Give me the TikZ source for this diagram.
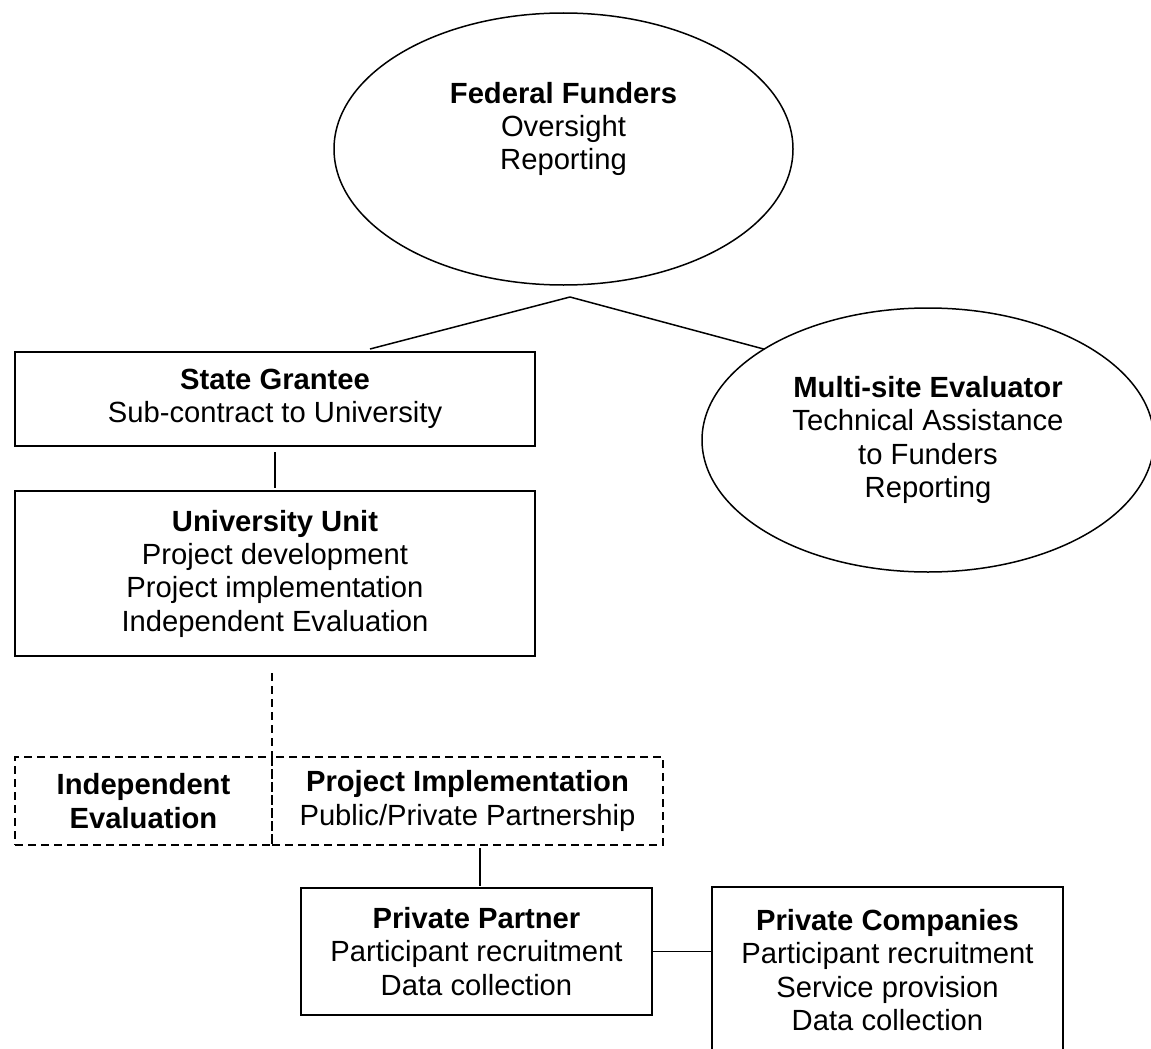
\documentclass[tikz,border=0pt]{standalone}
\usepackage{fontspec}
\setmainfont{Liberation Sans}
\usetikzlibrary{shapes.geometric}
\newcommand{\dfont}{\fontsize{29.2}{33.3}\selectfont}
\begin{document}
\begin{tikzpicture}[x=1pt,y=-1pt,
  every node/.style={font=\dfont, align=center, inner sep=0pt, outer sep=0pt},
  conn/.style={line width=1.5pt},
  dconn/.style={line width=1.5pt, dash pattern=on 8pt off 5pt},
  box/.style={draw, line width=1.5pt, rectangle},
  dbox/.style={box, dash pattern=on 8pt off 5pt},
  oval/.style={draw, line width=1.5pt, ellipse}]
\useasboundingbox (0,0) rectangle (1151,1049);
\clip (0,0) rectangle (1151,1049);
% ellipses
\node[oval, minimum width=459pt, minimum height=272pt] (ff) at (563.5,149) {};
\node (fft) at (563.5,129) {\textbf{Federal Funders}\\Oversight\\Reporting};
\node[oval, minimum width=452pt, minimum height=264pt] (ms) at (928,440)
  {\textbf{Multi-site Evaluator}\\Technical Assistance\\to Funders\\Reporting};
% boxes
\node[box, minimum width=520pt, minimum height=94pt] (sg) at (275,399)
  {\textbf{State Grantee}\\Sub-contract to University};
\node[box, minimum width=520pt, minimum height=165pt] (uu) at (275,573.5)
  {\textbf{University Unit}\\Project development\\Project implementation\\Independent Evaluation};
\node[dbox, minimum width=257pt, minimum height=88pt] (ie) at (143.5,801)
  {\textbf{Independent}\\\textbf{Evaluation}};
\node[dbox, minimum width=391pt, minimum height=88pt] (pi) at (467.5,801)
  {\textbf{Project Implementation}\\Public/Private Partnership};
\node[box, minimum width=351pt, minimum height=127pt] (pp) at (476.5,951.5)
  {\textbf{Private Partner}\\Participant recruitment\\Data collection};
\node[box, minimum width=351pt, minimum height=166pt] (pc) at (887.5,970)
  {\textbf{Private Companies}\\Participant recruitment\\Service provision\\Data collection};
% connectors
\coordinate (apex) at (570,297);
\draw[conn] (apex) -- ([xshift=95pt,yshift=3pt]sg.north);
\draw[conn] (apex) -- (ms.151);
\draw[conn] ([yshift=-6pt]sg.south) -- ([yshift=3pt]uu.north);
\coordinate (dtop) at (272,673);
\draw[dconn] (dtop) -- (ie.north east);
\draw[conn] ([xshift=12.5pt,yshift=-3pt]pi.south) -- ([xshift=3.5pt,yshift=2pt]pp.north);
\draw[conn] (pp.east) -- (pp.east -| pc.west);
\end{tikzpicture}
\end{document}
